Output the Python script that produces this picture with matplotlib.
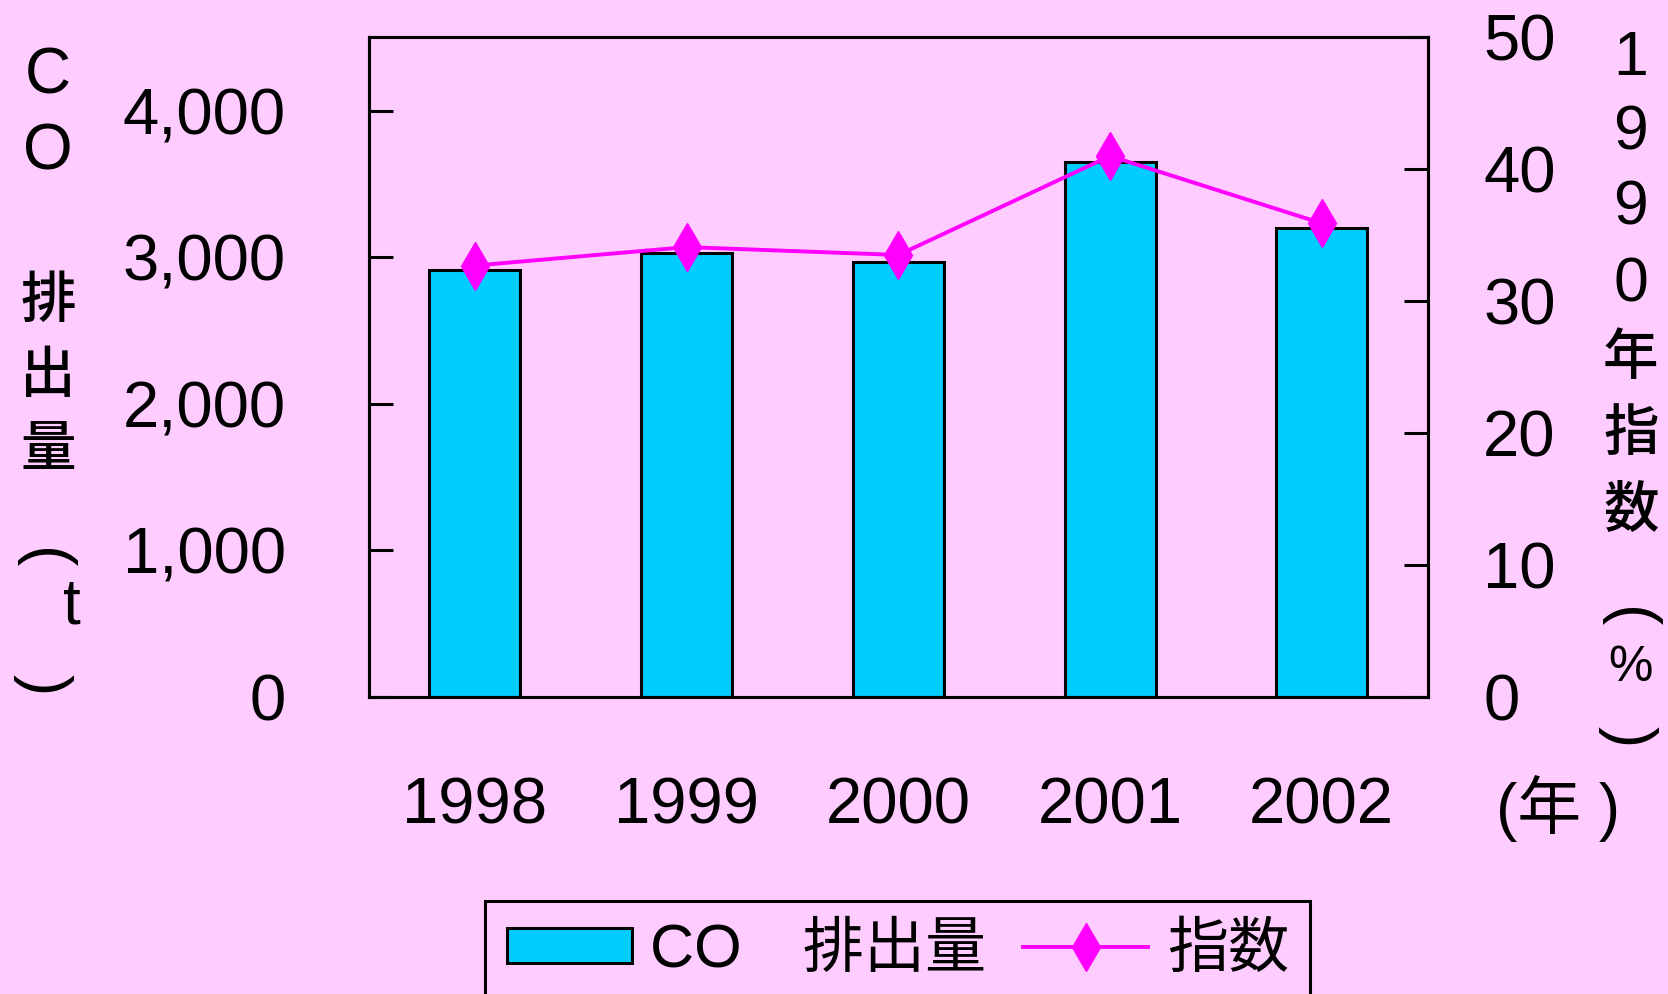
import matplotlib
matplotlib.use('Agg')
import matplotlib.pyplot as plt
from matplotlib.patches import Patch
from matplotlib.lines import Line2D
import numpy as np

plt.rcParams['font.family'] = ['Liberation Sans', 'Noto Sans CJK JP', 'DejaVu Sans']

years = ['1998', '1999', '2000', '2001', '2002']
co_amount = [2910, 3030, 2970, 3650, 3200]   # t
index_pct = [32.7, 34.1, 33.5, 41.0, 35.9]   # % (1990 = 100)

left_ticks = [0, 1000, 2000, 3000, 4000]
left_ticklabels = ['0', '1,000', '2,000', '3,000', '4,000']
right_ticks = [0, 10, 20, 30, 40, 50]

bg = '#FFCCFF'
bar_col = '#00CCFF'
line_col = '#FF00FF'

W, H = 1568, 934  # coords

fig = plt.figure(figsize=(16.68, 9.94), dpi=100, facecolor=bg)
ax = fig.add_axes([347 / W, 1 - 655 / H, (1342 - 347) / W, (655 - 35) / H])
ax.set_facecolor(bg)

x = np.arange(len(years))
ax.bar(x, co_amount, width=0.43, color=bar_col, edgecolor='black', linewidth=2.2, zorder=2)
ax.set_xlim(-0.5, 4.5)
ax.set_ylim(0, 4500)
ax.set_yticks(left_ticks)
ax.set_yticklabels(left_ticklabels)
ax.set_xticks(x)
ax.set_xticklabels(years)
ax.tick_params(axis='y', direction='in', length=17, width=2.2, labelsize=47, pad=60)
ax.tick_params(axis='x', length=0, labelsize=47, pad=57)
for s in ax.spines.values():
    s.set_linewidth(2.2)

ax2 = ax.twinx()
ax2.plot(x, index_pct, color=line_col, linewidth=2.8, marker='d', markersize=24, zorder=3)
ax2.set_ylim(0, 50)
ax2.set_yticks(right_ticks)
ax2.tick_params(axis='y', direction='in', length=17, width=2.2, labelsize=47, pad=40)
for s in ax2.spines.values():
    s.set_linewidth(2.2)

# left axis title, written vertically
fs = 40
for ch, px, py in [('C', 45, 72), ('O', 45, 143), ('排', 45, 285), ('出', 45, 355), ('量', 45, 425), ('t', 68, 570)]:
    fig.text(px / W, 1 - py / H, ch, fontsize=fs + 6 if ch in 'COt' else fs, ha='center', va='center',
             fontweight='medium')
fig.text(40 / W, 1 - 525 / H, '(', fontsize=fs + 6, rotation=-90, ha='center', va='center')
fig.text(40 / W, 1 - 643 / H, ')', fontsize=fs + 6, rotation=-90, ha='center', va='center')

# right axis title
for ch, py in [('1', 55), ('9', 125), ('9', 195), ('0', 268), ('年', 338), ('指', 410), ('数', 482), ('%', 628)]:
    fig.text(1533 / W, 1 - py / H, ch, fontsize=fs + 5 if ch in '1902' else (36 if ch == '%' else fs),
             ha='center', va='center', fontweight='medium')
fig.text(1530 / W, 1 - 580 / H, '(', fontsize=fs + 6, rotation=-90, ha='center', va='center')
fig.text(1530 / W, 1 - 692 / H, ')', fontsize=fs + 6, rotation=-90, ha='center', va='center')

fig.text(1465 / W, 1 - 760 / H, '(年 )', fontsize=46, ha='center', va='center')

handles = [Patch(facecolor=bar_col, edgecolor='black', linewidth=2.2),
           Line2D([], [], color=line_col, linewidth=2.8, marker='d', markersize=24)]
leg = fig.legend(handles, ['CO　排出量', '指数'], loc='upper center', bbox_to_anchor=(844 / W, 1 - 847 / H),
                 ncol=2, fontsize=44, frameon=True, fancybox=False, edgecolor='black', facecolor=bg,
                 framealpha=1, borderpad=0.35, handlelength=2.05, handleheight=0.5,
                 handletextpad=0.3, columnspacing=0.6, borderaxespad=0)
leg.get_frame().set_linewidth(2.2)

plt.savefig('out.png', dpi=100, facecolor=bg)
